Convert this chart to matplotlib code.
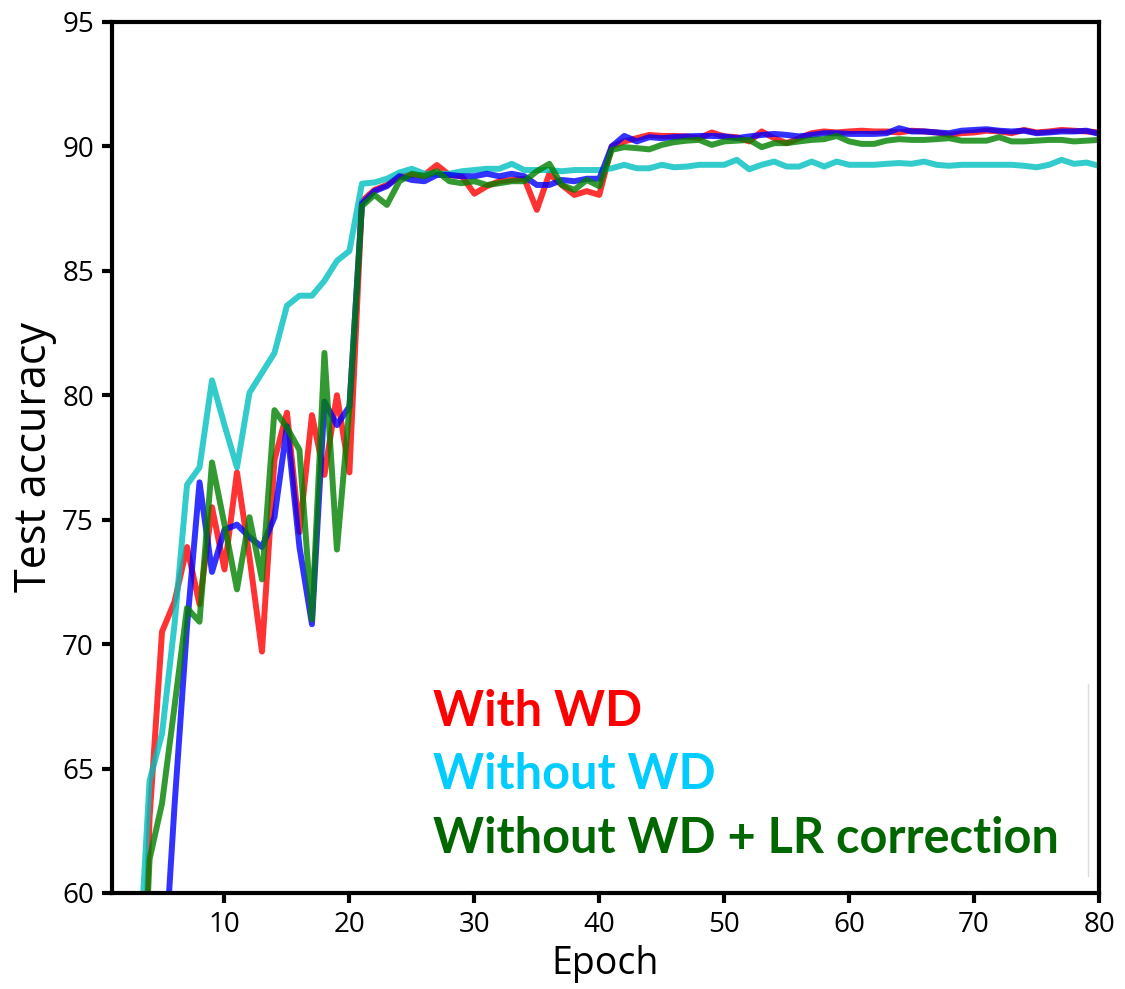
import matplotlib
matplotlib.use('Agg')
import matplotlib.pyplot as plt
import numpy as np

epochs = np.arange(1, 81)

with_wd = [30, 38, 46, 63, 70.5, 71.7, 73.9, 71.6, 75.5, 73.0,
           76.9, 73.5, 69.7, 77.4, 79.3, 74.5, 79.2, 76.8, 80.0, 76.9,
           87.8, 88.25, 88.45, 88.8, 88.85, 88.85, 89.25, 88.85, 88.8, 88.1,
           88.4, 88.6, 88.65, 88.7, 87.45, 88.9, 88.45, 88.05, 88.2, 88.05,
           90.0, 90.2, 90.33, 90.46, 90.42, 90.42, 90.4, 90.33, 90.56, 90.4,
           90.37, 90.2, 90.6, 90.33, 90.13, 90.33, 90.53, 90.6, 90.56, 90.6,
           90.63, 90.6, 90.6, 90.56, 90.63, 90.6, 90.56, 90.46, 90.53, 90.56,
           90.63, 90.6, 90.53, 90.66, 90.56, 90.6, 90.66, 90.63, 90.6, 90.56]

without_wd = [35, 45, 55.5, 64.5, 66.4, 70.8, 76.4, 77.1, 80.6, 78.8,
              77.1, 80.1, 80.9, 81.7, 83.6, 84.0, 84.0, 84.6, 85.4, 85.8,
              88.5, 88.55, 88.7, 88.95, 89.1, 88.9, 88.9, 88.9, 89.0, 89.05,
              89.1, 89.1, 89.3, 89.05, 89.05, 89.05, 89.0, 89.05, 89.05, 89.05,
              89.12, 89.26, 89.12, 89.12, 89.26, 89.16, 89.19, 89.26, 89.26, 89.26,
              89.46, 89.08, 89.26, 89.39, 89.19, 89.19, 89.39, 89.19, 89.39, 89.26,
              89.26, 89.26, 89.3, 89.33, 89.3, 89.39, 89.26, 89.22, 89.26, 89.26,
              89.26, 89.26, 89.26, 89.22, 89.16, 89.26, 89.46, 89.3, 89.35, 89.22]

blue_run = [30, 38, 45, 50, 55.5, 63.5, 70.7, 76.5, 72.9, 74.6,
            74.8, 74.3, 73.9, 75.1, 78.75, 73.9, 70.8, 79.75, 78.8, 79.55,
            87.7, 88.2, 88.4, 88.8, 88.65, 88.6, 88.85, 88.85, 88.8, 88.8,
            88.9, 88.8, 88.9, 88.8, 88.45, 88.45, 88.65, 88.6, 88.7, 88.7,
            90.0, 90.42, 90.2, 90.37, 90.33, 90.37, 90.4, 90.42, 90.42, 90.4,
            90.33, 90.4, 90.46, 90.5, 90.46, 90.4, 90.46, 90.53, 90.53, 90.5,
            90.5, 90.5, 90.53, 90.73, 90.6, 90.6, 90.56, 90.53, 90.63, 90.66,
            90.69, 90.63, 90.6, 90.63, 90.53, 90.56, 90.6, 90.6, 90.63, 90.5]

lr_corr = [32, 40, 50, 61.35, 63.6, 67.5, 71.45, 70.9, 77.3, 74.8,
           72.2, 75.1, 72.6, 79.4, 78.7, 77.8, 71.0, 81.7, 73.8, 79.5,
           87.6, 88.05, 87.65, 88.6, 88.9, 88.8, 89.0, 88.6, 88.52, 88.6,
           88.45, 88.52, 88.6, 88.6, 89.0, 89.3, 88.45, 88.25, 88.65, 88.4,
           89.86, 89.97, 89.93, 89.88, 90.06, 90.17, 90.23, 90.26, 90.06, 90.2,
           90.23, 90.26, 89.97, 90.13, 90.13, 90.2, 90.26, 90.29, 90.42, 90.2,
           90.1, 90.1, 90.23, 90.29, 90.26, 90.26, 90.29, 90.33, 90.23, 90.23,
           90.23, 90.37, 90.2, 90.2, 90.23, 90.26, 90.26, 90.2, 90.23, 90.26]

labels = ['With WD', 'Without WD', 'Without WD + LR correction']
label_colors = ['#ff0000', '#00ccff', '#006600']

fig = plt.figure(figsize=(11.25, 9.89), dpi=100)
ax = fig.add_axes([0.0996, 0.0971, 0.8773, 0.8807])

lw = 4.3
ax.plot(epochs, with_wd, color='r', alpha=0.8, lw=lw)
ax.plot(epochs, without_wd, color='c', alpha=0.8, lw=lw)
ax.plot(epochs, blue_run, color='b', alpha=0.8, lw=lw)
ax.plot(epochs, lr_corr, color='g', alpha=0.8, lw=lw)

ax.set_xlim(1, 80)
ax.set_ylim(60, 95)
ax.set_xticks(range(10, 81, 10))
ax.set_yticks(range(60, 96, 5))

tick_font = 'Open Sans'
for lab in ax.get_xticklabels() + ax.get_yticklabels():
    lab.set_family(tick_font)
    lab.set_fontsize(20)
ax.tick_params(direction='out', length=7, width=3, pad=6)
for s in ax.spines.values():
    s.set_linewidth(3)

ax.set_xlabel('Epoch', family=tick_font, fontsize=27, labelpad=4)
ax.set_ylabel('Test accuracy', family=tick_font, fontsize=31, labelpad=4)

# coloured text legend
for i, (t, c) in enumerate(zip(labels, label_colors)):
    ax.text(0.325, 0.192 - i * 0.073, t, color=c, transform=ax.transAxes,
            family='Lato', fontweight='bold', fontsize=35, va='baseline')
ax.plot([0.989, 0.989], [0.02, 0.24], transform=ax.transAxes,
        color='#dddddd', lw=1)

fig.savefig('out.png', dpi=100)
